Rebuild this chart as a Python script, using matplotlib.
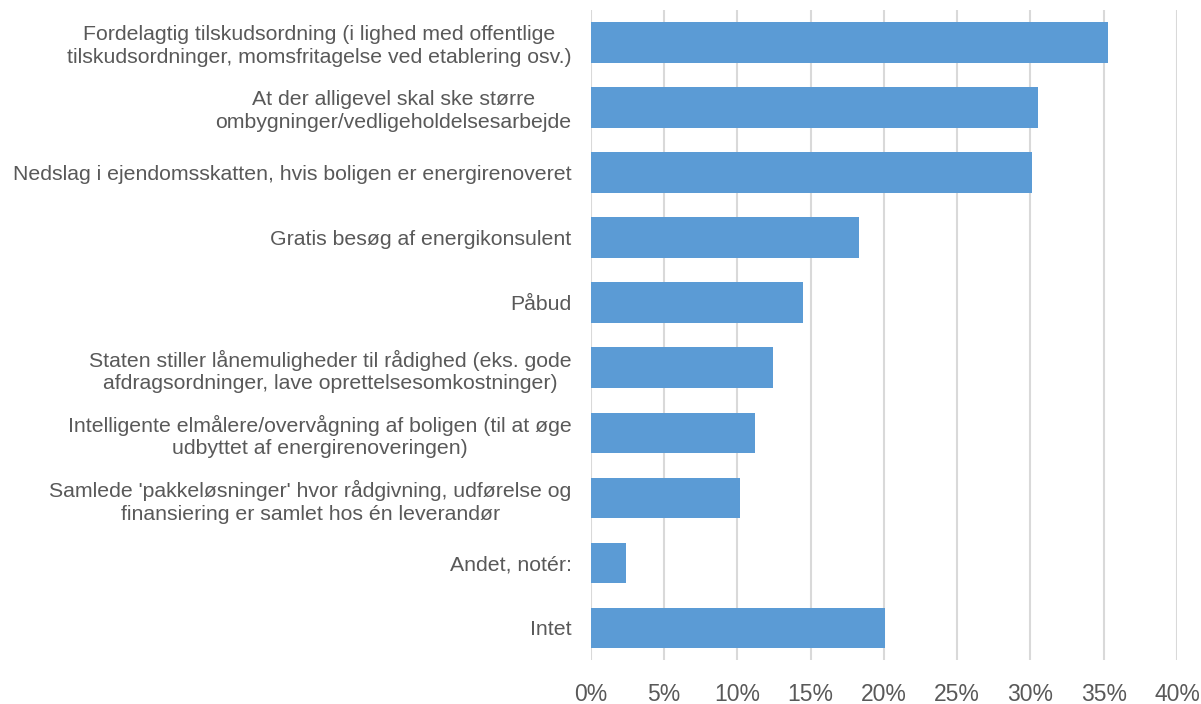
import matplotlib.pyplot as plt
import numpy as np

# Labels (top to bottom) and shares
categories = [
    "Fordelagtig tilskudsordning (i lighed med offentlige\ntilskudsordninger, momsfritagelse ved etablering osv.)",
    "At der alligevel skal ske større\nombygninger/vedligeholdelsesarbejde",
    "Nedslag i ejendomsskatten, hvis boligen er energirenoveret",
    "Gratis besøg af energikonsulent",
    "Påbud",
    "Staten stiller lånemuligheder til rådighed (eks. gode\nafdragsordninger, lave oprettelsesomkostninger)",
    "Intelligente elmålere/overvågning af boligen (til at øge\nudbyttet af energirenoveringen)",
    "Samlede 'pakkeløsninger' hvor rådgivning, udførelse og\nfinansiering er samlet hos én leverandør",
    "Andet, notér:",
    "Intet",
]
values = [35.3, 30.5, 30.1, 18.3, 14.5, 12.4, 11.2, 10.2, 2.4, 20.1]
xticks = [0, 5, 10, 15, 20, 25, 30, 35, 40]

plt.rcParams['font.family'] = ['Liberation Sans', 'DejaVu Sans']

fig = plt.figure(figsize=(12.01, 7.04), dpi=100)
ax = fig.add_axes([0.492, 0.062, 0.488, 0.924])

y = np.arange(len(categories))
ax.barh(y, values, height=0.62, color='#5B9BD5', zorder=3)

ax.set_xlim(0, 40)
ax.set_ylim(len(categories) - 0.5, -0.5)
ax.set_xticks(xticks)
ax.set_xticklabels([f"{t}%" for t in xticks], fontsize=16.5, color='#595959')
ax.set_yticks(y)
ax.set_yticklabels(categories, fontsize=15.3, color='#595959')
for lab in ax.get_yticklabels():
    lab.set_multialignment('center')
    lab.set_linespacing(1.25)

ax.tick_params(axis='both', length=0)
ax.tick_params(axis='y', pad=14)
ax.tick_params(axis='x', pad=16)
ax.grid(axis='x', color='#d9d9d9', linewidth=1.5, zorder=0)
for s in ax.spines.values():
    s.set_visible(False)

fig.savefig('out.png', dpi=100)
